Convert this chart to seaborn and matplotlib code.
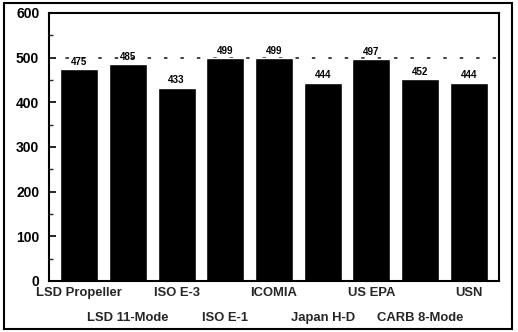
import matplotlib
matplotlib.use("Agg")
import matplotlib.pyplot as plt
import seaborn as sns
import pandas as pd
from matplotlib.patches import Rectangle
from matplotlib.ticker import MultipleLocator

categories = ["LSD Propeller", "LSD 11-Mode", "ISO E-3", "ISO E-1", "ICOMIA",
              "Japan H-D", "US EPA", "CARB 8-Mode", "USN"]
values = [475, 485, 433, 499, 499, 444, 497, 452, 444]
y_ticks = [0, 100, 200, 300, 400, 500, 600]
ref_value = 500

sns.set_theme(style="white")
plt.rcParams['font.family'] = ['Liberation Sans', 'DejaVu Sans']

df = pd.DataFrame({"cat": categories, "val": values})

fig = plt.figure(figsize=(5.18, 3.32), dpi=100)
ax = fig.add_axes([49/518, 51/332, 450/518, 268/332])

sns.barplot(data=df, x="cat", y="val", color="black", width=0.78,
            saturation=1, ax=ax, zorder=2)

ax.set_ylim(0, 600)
ax.set_xlim(-0.62, len(categories) - 1 + 0.62)
ax.axhline(ref_value, color="#333333", linestyle=(0, (1.9, 7.2)), linewidth=1.3, zorder=1)

for i, v in enumerate(values):
    ax.text(i, v + 5, str(v), ha="center", va="bottom", fontsize=7,
            fontweight="bold", color="black")

ax.set_yticks(y_ticks)
ax.set_yticklabels([str(t) for t in y_ticks], fontsize=10, fontweight="bold")
ax.yaxis.set_minor_locator(MultipleLocator(50))
ax.tick_params(axis="y", which="major", direction="in", length=5, width=1.2,
               left=True, pad=7, colors="black")
ax.tick_params(axis="y", which="minor", direction="in", length=3, width=1.0, left=True)

even_pos = [i for i in range(len(categories)) if i % 2 == 0]
odd_pos = [i for i in range(len(categories)) if i % 2 == 1]
ax.set_xticks(even_pos)
ax.set_xticklabels([categories[i] for i in even_pos], fontsize=9.4, fontweight="bold")
ax.set_xticks(odd_pos, minor=True)
ax.set_xticklabels([categories[i] for i in odd_pos], minor=True, fontsize=9.4,
                   fontweight="bold")
ax.tick_params(axis="x", which="major", length=0, pad=4, bottom=True)
ax.tick_params(axis="x", which="minor", length=0, pad=22, bottom=True)

ax.set_xlabel("")
ax.set_ylabel("")
for s in ax.spines.values():
    s.set_visible(True)
    s.set_color("black")
    s.set_linewidth(1.5)

fig.patches.append(Rectangle((4/518, 3/332), 508/518, 326/332, transform=fig.transFigure,
                             fill=False, edgecolor="black", linewidth=1.5))

fig.savefig("out.png", dpi=100)
